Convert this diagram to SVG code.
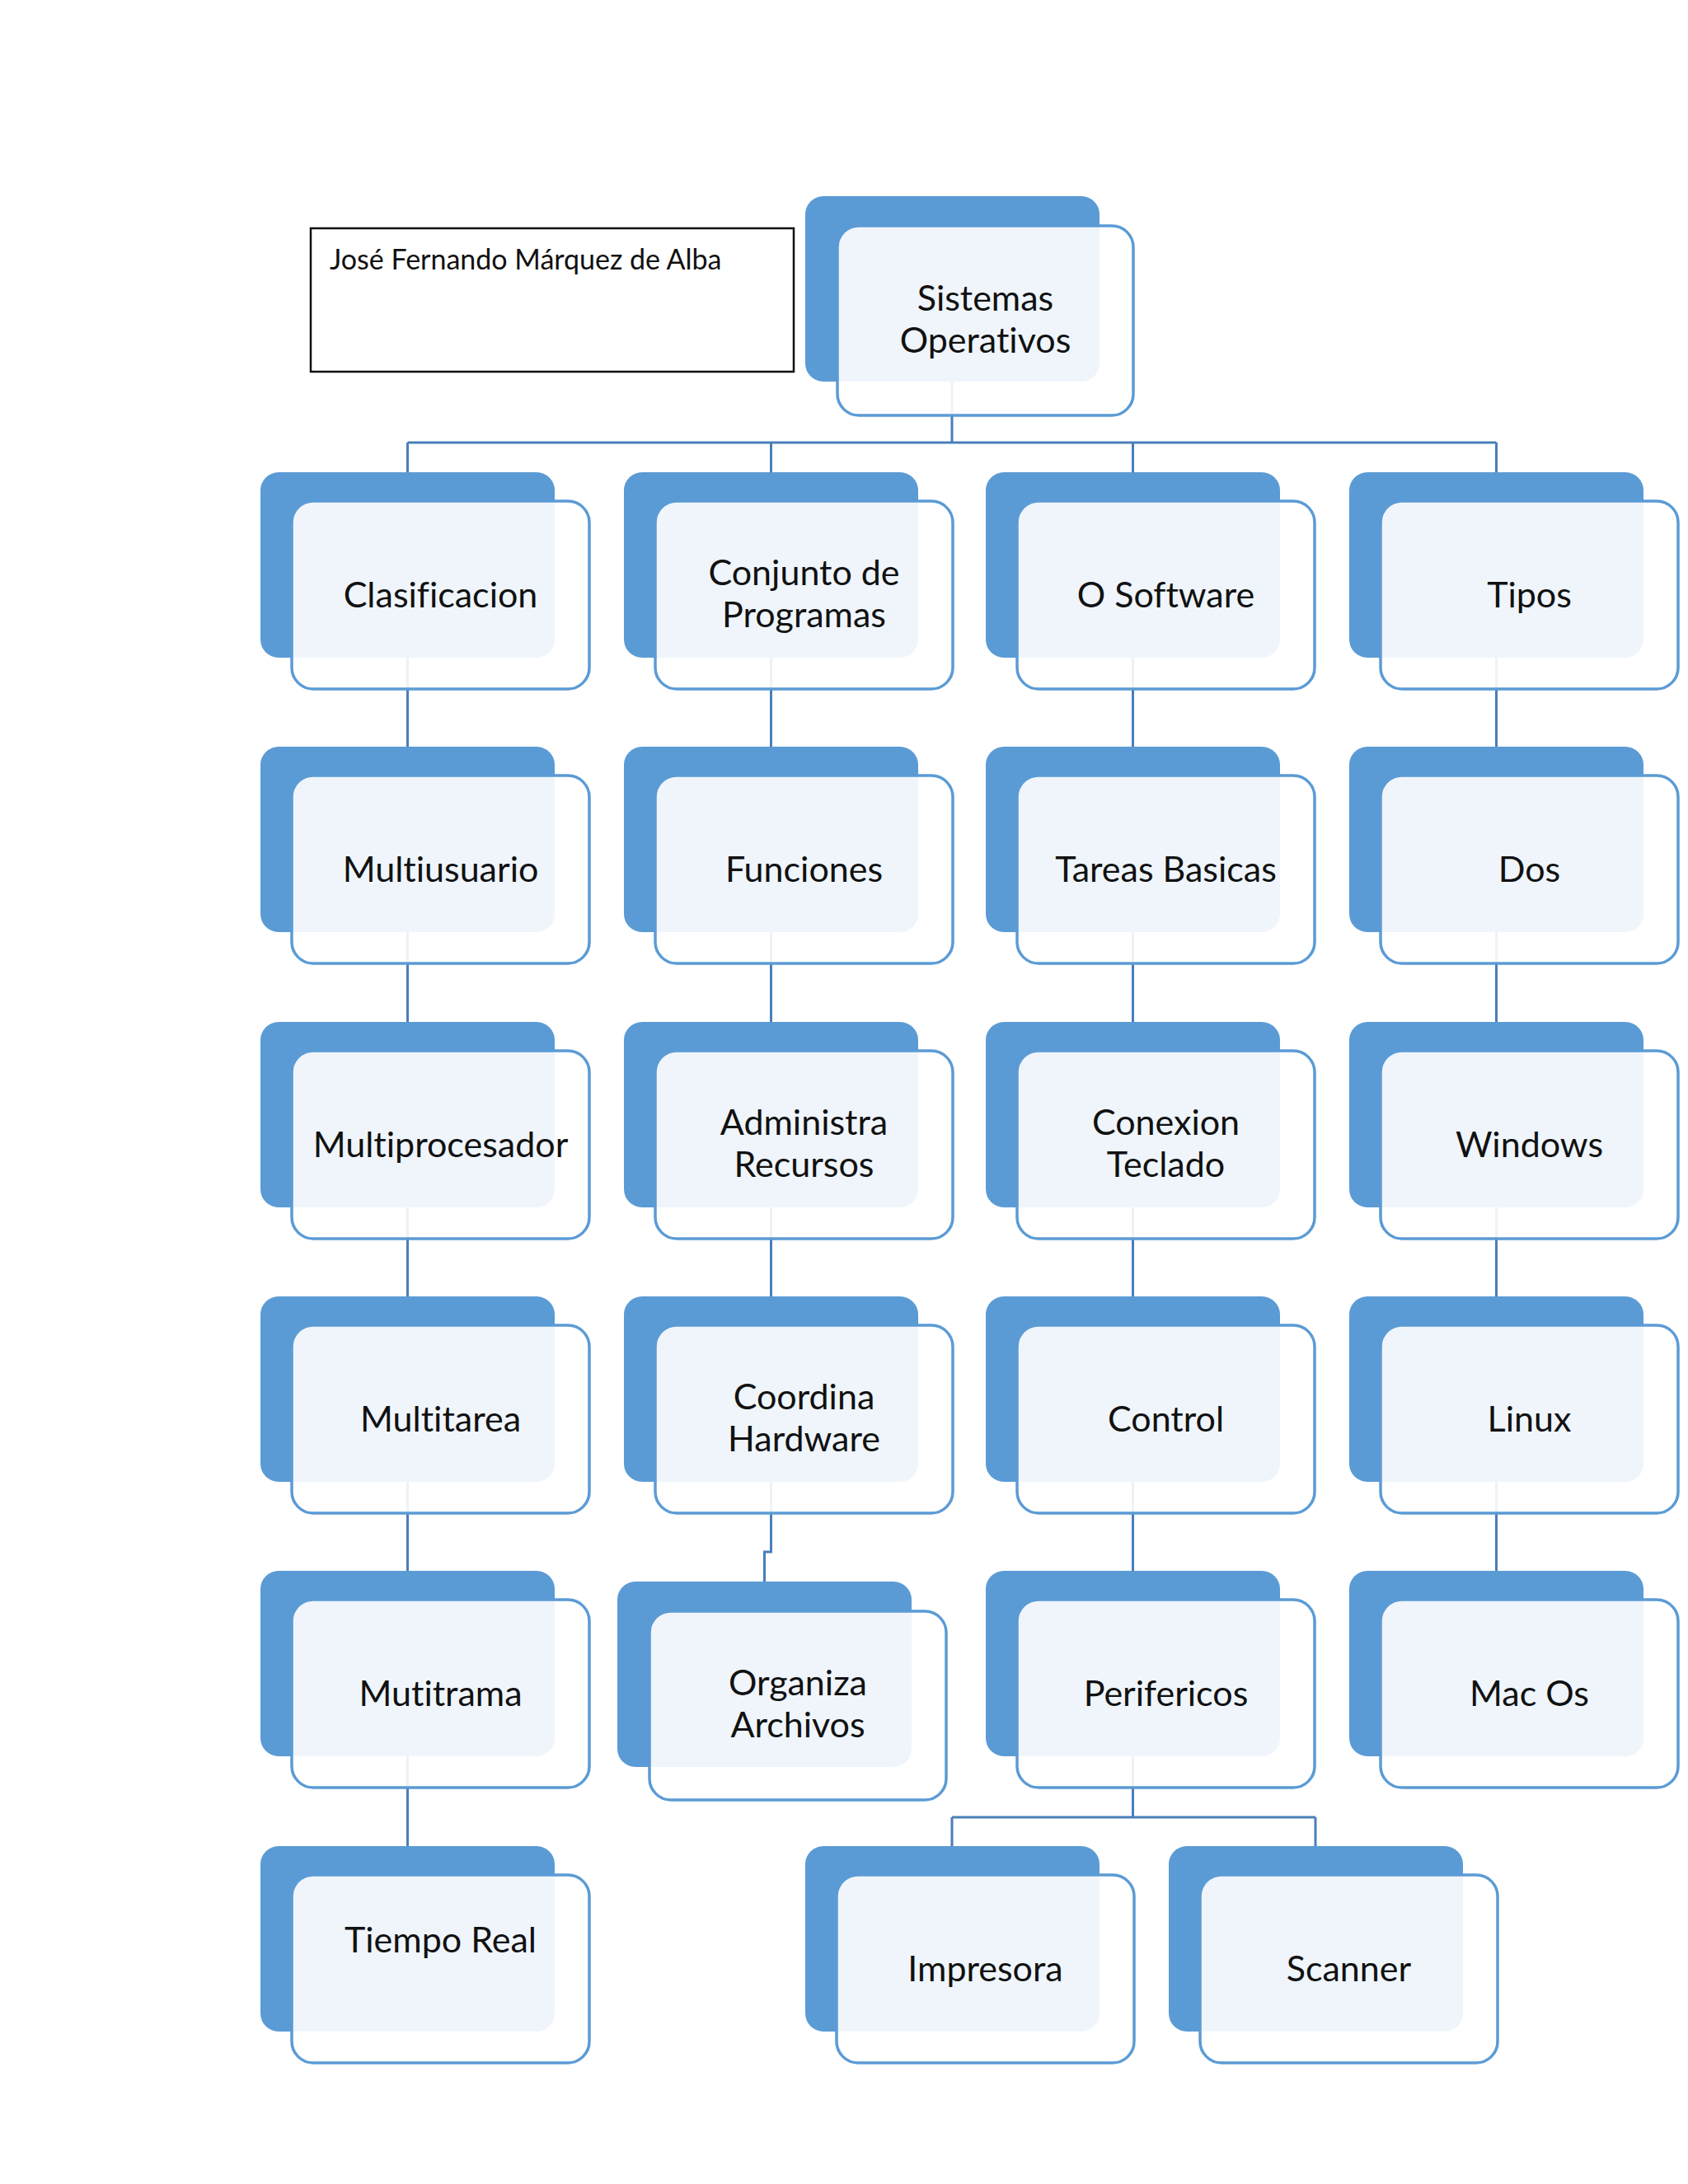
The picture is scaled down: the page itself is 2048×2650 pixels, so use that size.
<svg xmlns="http://www.w3.org/2000/svg" width="2048" height="2650" viewBox="0 0 2048 2650">
<style>
.back{fill:#5b9bd5}
.front{fill:#ffffff;fill-opacity:0.9;stroke:#5b9bd5;stroke-width:3.5}
.lbl{font-family:Lato,"Open Sans",sans-serif;font-size:43px;fill:#111;text-anchor:middle;font-variant-ligatures:none}
.conn{fill:none;stroke:#4a7ebb;stroke-width:3}
</style>
<rect width="2048" height="2650" fill="#ffffff"/>
<g id="author">
<rect x="377" y="277" width="586" height="174" fill="#fff" stroke="#111" stroke-width="2.5"/>
<text x="400" y="327" font-family="Lato,'Open Sans',sans-serif" font-size="34" fill="#111" style="font-variant-ligatures:none">José Fernando Márquez de Alba</text>
</g>
<g id="connectors">
<path class="conn" d="M1155,463 V537 M494.5,537 H1815.5 M494.5,537 V573 M935.5,537 V573 M1374.5,537 V573 M1815.5,537 V573"/>
<path class="conn" d="M494.5,798 V906 M494.5,1131 V1240 M494.5,1465 V1573 M494.5,1798 V1906 M494.5,2131 V2240"/>
<path class="conn" d="M935.5,798 V906 M935.5,1131 V1240 M935.5,1465 V1573 M935.5,1798 V1883 H927.5 V1919"/>
<path class="conn" d="M1374.5,798 V906 M1374.5,1131 V1240 M1374.5,1465 V1573 M1374.5,1798 V1906 M1374.5,2131 V2205 M1155,2205 H1596 M1155,2205 V2240 M1596,2205 V2240"/>
<path class="conn" d="M1815.5,798 V906 M1815.5,1131 V1240 M1815.5,1465 V1573 M1815.5,1798 V1906"/>
</g>
<g id="n-sistemas">
<rect class="back" x="977" y="238" width="357" height="225" rx="22"/>
<rect class="front" x="1016" y="274" width="359" height="230" rx="26"/>
<text class="lbl" x="1195.5" y="377">Sistemas</text>
<text class="lbl" x="1195.5" y="428">Operativos</text>
</g>
<g id="n-clasificacion">
<rect class="back" x="316" y="573" width="357" height="225" rx="22"/>
<rect class="front" x="354" y="608" width="361" height="228" rx="26"/>
<text class="lbl" x="534.5" y="737">Clasificacion</text>
</g>
<g id="n-conjunto">
<rect class="back" x="757" y="573" width="357" height="225" rx="22"/>
<rect class="front" x="795" y="608" width="361" height="228" rx="26"/>
<text class="lbl" x="975.5" y="710">Conjunto de</text>
<text class="lbl" x="975.5" y="761">Programas</text>
</g>
<g id="n-osoftware">
<rect class="back" x="1196" y="573" width="357" height="225" rx="22"/>
<rect class="front" x="1234" y="608" width="361" height="228" rx="26"/>
<text class="lbl" x="1414.5" y="737">O Software</text>
</g>
<g id="n-tipos">
<rect class="back" x="1637" y="573" width="357" height="225" rx="22"/>
<rect class="front" x="1675" y="608" width="361" height="228" rx="26"/>
<text class="lbl" x="1855.5" y="737">Tipos</text>
</g>
<g id="n-multiusuario">
<rect class="back" x="316" y="906" width="357" height="225" rx="22"/>
<rect class="front" x="354" y="941" width="361" height="228" rx="26"/>
<text class="lbl" x="534.5" y="1070">Multiusuario</text>
</g>
<g id="n-funciones">
<rect class="back" x="757" y="906" width="357" height="225" rx="22"/>
<rect class="front" x="795" y="941" width="361" height="228" rx="26"/>
<text class="lbl" x="975.5" y="1070">Funciones</text>
</g>
<g id="n-tareas">
<rect class="back" x="1196" y="906" width="357" height="225" rx="22"/>
<rect class="front" x="1234" y="941" width="361" height="228" rx="26"/>
<text class="lbl" x="1414.5" y="1070">Tareas Basicas</text>
</g>
<g id="n-dos">
<rect class="back" x="1637" y="906" width="357" height="225" rx="22"/>
<rect class="front" x="1675" y="941" width="361" height="228" rx="26"/>
<text class="lbl" x="1855.5" y="1070">Dos</text>
</g>
<g id="n-multiprocesador">
<rect class="back" x="316" y="1240" width="357" height="225" rx="22"/>
<rect class="front" x="354" y="1275" width="361" height="228" rx="26"/>
<text class="lbl" x="534.5" y="1404">Multiprocesador</text>
</g>
<g id="n-administra">
<rect class="back" x="757" y="1240" width="357" height="225" rx="22"/>
<rect class="front" x="795" y="1275" width="361" height="228" rx="26"/>
<text class="lbl" x="975.5" y="1377">Administra</text>
<text class="lbl" x="975.5" y="1428">Recursos</text>
</g>
<g id="n-conexion">
<rect class="back" x="1196" y="1240" width="357" height="225" rx="22"/>
<rect class="front" x="1234" y="1275" width="361" height="228" rx="26"/>
<text class="lbl" x="1414.5" y="1377">Conexion</text>
<text class="lbl" x="1414.5" y="1428">Teclado</text>
</g>
<g id="n-windows">
<rect class="back" x="1637" y="1240" width="357" height="225" rx="22"/>
<rect class="front" x="1675" y="1275" width="361" height="228" rx="26"/>
<text class="lbl" x="1855.5" y="1404">Windows</text>
</g>
<g id="n-multitarea">
<rect class="back" x="316" y="1573" width="357" height="225" rx="22"/>
<rect class="front" x="354" y="1608" width="361" height="228" rx="26"/>
<text class="lbl" x="534.5" y="1737">Multitarea</text>
</g>
<g id="n-coordina">
<rect class="back" x="757" y="1573" width="357" height="225" rx="22"/>
<rect class="front" x="795" y="1608" width="361" height="228" rx="26"/>
<text class="lbl" x="975.5" y="1710">Coordina</text>
<text class="lbl" x="975.5" y="1761">Hardware</text>
</g>
<g id="n-control">
<rect class="back" x="1196" y="1573" width="357" height="225" rx="22"/>
<rect class="front" x="1234" y="1608" width="361" height="228" rx="26"/>
<text class="lbl" x="1414.5" y="1737">Control</text>
</g>
<g id="n-linux">
<rect class="back" x="1637" y="1573" width="357" height="225" rx="22"/>
<rect class="front" x="1675" y="1608" width="361" height="228" rx="26"/>
<text class="lbl" x="1855.5" y="1737">Linux</text>
</g>
<g id="n-mutitrama">
<rect class="back" x="316" y="1906" width="357" height="225" rx="22"/>
<rect class="front" x="354" y="1941" width="361" height="228" rx="26"/>
<text class="lbl" x="534.5" y="2070">Mutitrama</text>
</g>
<g id="n-organiza">
<rect class="back" x="749" y="1919" width="357" height="225" rx="22"/>
<rect class="front" x="788" y="1955" width="360" height="229" rx="26"/>
<text class="lbl" x="968" y="2057">Organiza</text>
<text class="lbl" x="968" y="2108">Archivos</text>
</g>
<g id="n-perifericos">
<rect class="back" x="1196" y="1906" width="357" height="225" rx="22"/>
<rect class="front" x="1234" y="1941" width="361" height="228" rx="26"/>
<text class="lbl" x="1414.5" y="2070">Perifericos</text>
</g>
<g id="n-macos">
<rect class="back" x="1637" y="1906" width="357" height="225" rx="22"/>
<rect class="front" x="1675" y="1941" width="361" height="228" rx="26"/>
<text class="lbl" x="1855.5" y="2070">Mac Os</text>
</g>
<g id="n-tiempo">
<rect class="back" x="316" y="2240" width="357" height="225" rx="22"/>
<rect class="front" x="354" y="2275" width="361" height="228" rx="26"/>
<text class="lbl" x="534.5" y="2369">Tiempo Real</text>
</g>
<g id="n-impresora">
<rect class="back" x="977" y="2240" width="357" height="225" rx="22"/>
<rect class="front" x="1015" y="2275" width="361" height="228" rx="26"/>
<text class="lbl" x="1195.5" y="2404">Impresora</text>
</g>
<g id="n-scanner">
<rect class="back" x="1418" y="2240" width="357" height="225" rx="22"/>
<rect class="front" x="1456" y="2275" width="361" height="228" rx="26"/>
<text class="lbl" x="1636.5" y="2404">Scanner</text>
</g>
</svg>
